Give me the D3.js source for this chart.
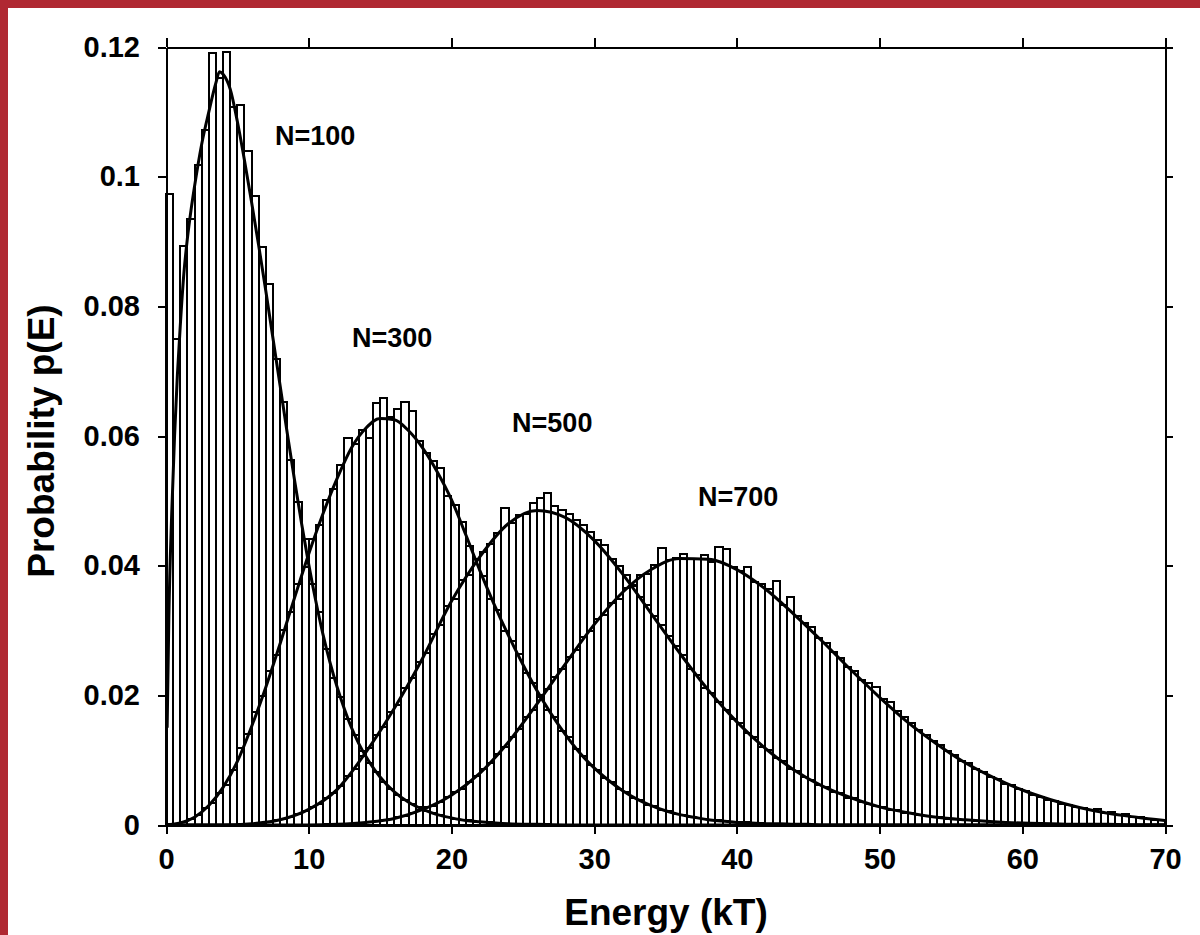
<!DOCTYPE html>
<html>
<head>
<meta charset="utf-8">
<script src="https://cdn.jsdelivr.net/npm/d3@7"></script>
<style>
html, body { margin: 0; padding: 0; background: #fff; }
svg { display: block; }
text { font-family: "Liberation Sans", Arial, sans-serif; font-weight: bold; fill: #000; }
</style>
</head>
<body>
<svg id="chart" width="1200" height="935"></svg>
<script>

/////////////////////////////////////////////////////////////////////////////
                      ///////    Data    ///////
/////////////////////////////////////////////////////////////////////////////

var seriesNames = ['N=100', 'N=300', 'N=500', 'N=700'];

var binWidth = 0.5;   // kT

// histogram heights, one per 0.5 kT bin, starting at the given energy
var barsN100Start = 0;
var barsN100 = [.0974,.0749,.0893,.0935,.1018,.1072,.1190,.1152,.1192,.1108,
                .1111,.1040,.0970,.0892,.0835,.0718,.0652,.0563,.0498,.0441,
                .0372,.0328,.0271,.0226,.0198,.0163,.0139,.0114,.0096,.0081,
                .0066,.0056,.0047,.0039,.0032,.0027,.0021,.0018,.0015,.0012,
                .0010,.0008,.0007,.0005,.0004,.0004,.0003,.0002,.0002,.0002,
                .0001,.0001,.0001,.0001];

var barsN300Start = 0;
var barsN300 = [.0001,.0002,.0005,.0010,.0015,.0026,.0034,.0049,.0062,.0085,
                .0118,.0140,.0175,.0199,.0238,.0262,.0301,.0328,.0372,.0398,
                .0441,.0463,.0502,.0519,.0556,.0597,.0588,.0609,.0597,.0651,
                .0658,.0630,.0641,.0653,.0638,.0592,.0574,.0561,.0550,.0508,
                .0493,.0468,.0431,.0410,.0384,.0349,.0331,.0300,.0284,.0263,
                .0235,.0219,.0201,.0178,.0166,.0145,.0135,.0117,.0107,.0092,
                .0085,.0072,.0066,.0056,.0051,.0042,.0038,.0031,.0029,.0023,
                .0021,.0017,.0015,.0013,.0011,.0009,.0008,.0007,.0006,.0005,
                .0004,.0004,.0003,.0003,.0002,.0002,.0002,.0001,.0001,.0001];

var barsN500Start = 5;
var barsN500 = [.0001,.0002,.0002,.0003,.0005,.0007,.0009,.0013,.0017,.0022,
                .0028,.0033,.0042,.0050,.0060,.0076,.0086,.0107,.0118,.0139,
                .0151,.0175,.0185,.0212,.0226,.0251,.0266,.0294,.0309,.0338,
                .0349,.0378,.0386,.0411,.0421,.0434,.0450,.0489,.0466,.0478,
                .0479,.0497,.0505,.0512,.0492,.0486,.0480,.0470,.0462,.0452,
                .0440,.0432,.0411,.0400,.0386,.0370,.0352,.0340,.0322,.0308,
                .0292,.0276,.0262,.0240,.0232,.0212,.0203,.0189,.0178,.0164,
                .0158,.0142,.0135,.0121,.0116,.0104,.0099,.0087,.0084,.0074,
                .0070,.0062,.0058,.0051,.0049,.0042,.0041,.0036,.0033,.0029,
                .0028,.0023,.0023,.0019,.0018,.0015,.0014,.0012,.0012,.0010,
                .0009,.0008,.0007,.0006,.0006,.0005,.0004,.0004,.0003,.0003,
                .0003,.0002,.0002,.0002,.0001,.0001];

var barsN700Start = 11;
var barsN700 = [.0001,.0001,.0001,.0002,.0002,.0003,.0004,.0006,.0007,.0009,
                .0012,.0014,.0019,.0023,.0027,.0030,.0036,.0043,.0051,.0056,
                .0067,.0076,.0086,.0096,.0110,.0120,.0136,.0148,.0166,.0177,
                .0197,.0209,.0228,.0241,.0259,.0270,.0290,.0299,.0318,.0324,
                .0343,.0349,.0366,.0369,.0385,.0387,.0401,.0427,.0409,.0412,
                .0418,.0411,.0410,.0416,.0405,.0429,.0426,.0398,.0392,.0398,
                .0375,.0371,.0364,.0377,.0340,.0351,.0322,.0312,.0306,.0289,
                .0280,.0267,.0258,.0244,.0238,.0224,.0219,.0213,.0194,.0190,
                .0176,.0166,.0157,.0147,.0139,.0129,.0124,.0114,.0108,.0099,
                .0095,.0087,.0082,.0074,.0071,.0064,.0061,.0055,.0053,.0046,
                .0043,.0039,.0037,.0033,.0031,.0027,.0026,.0023,.0025,.0019,
                .0020,.0016,.0017,.0013,.0012,.0010,.0008,.0008];

// fitted curves: energies and p(E)
var energyN100 = [0.08,0.2,0.4,0.6,0.8,1.0,1.25,1.5,1.75,2.0,
                  2.5,3.0,3.5,3.75,4.0,4.5,5.0,5.5,6.0,6.5,
                  7.0,7.5,8.0,8.5,9.0,9.5,10.0,10.5,11,11.5,
                  12,12.5,13,13.5,14,15,16,17,18,19,
                  20,21,22,24,26,28,30,40,50,60,70];
var fitN100 = [.0150,.0320,.0480,.0600,.0695,.0770,.0850,.0905,.0948,.0985,
               .1050,.1100,.1145,.1162,.1158,.1135,.1085,.1025,.0960,.0893,
               .0823,.0750,.0677,.0604,.0533,.0465,.0402,.0345,.0294,.0250,
               .0212,.0179,.0150,.0126,.0106,.0074,.0051,.0035,.0024,.0016,
               .0011,.0007,.0005,.0002,.0001,0,0,0,0,0,0];

var energyN300 = [0,1,2,3,4,5,6,7,8,9,
                  10,11,12,13,14,15,16,17,18,19,
                  20,21,22,23,24,25,26,27,28,29,
                  30,31,32,33,34,35,36,37,38,39,
                  40,41,42,43,44,45,46,50,60,70];
var fitN300 = [0,.0003,.0012,.0030,.0058,.0098,.0152,.0213,.0280,.0350,
               .0418,.0480,.0535,.0582,.0612,.0627,.0625,.0608,.0581,.0545,
               .0502,.0448,.0392,.0340,.0292,.0248,.0207,.0171,.0139,.0111,
               .0088,.0069,.0053,.0040,.0030,.0022,.0016,.0012,.0008,.0006,
               .0004,.0003,.0002,.0002,.0001,.0001,0,0,0,0];

var energyEven = [0,2,4,6,8,10,12,14,16,18,
                  20,22,24,26,28,30,32,34,36,38,
                  40,42,44,46,48,50,52,54,56,58,
                  60,62,64,66,68,70];
var fitN500 = [0,0,0,.0002,.0008,.0024,.0055,.0112,.0180,.0258,
               .0345,.0414,.0465,.0485,.0474,.0439,.0387,.0326,.0265,.0208,
               .0159,.0118,.0085,.0060,.0042,.0028,.0019,.0012,.0008,.0005,
               .0003,.0002,.0001,.0001,0,0];
var fitN700 = [0,0,0,0,0,0,.0001,.0004,.0010,.0024,
               .0046,.0080,.0128,.0187,.0249,.0309,.0359,.0394,.0411,.0410,
               .0394,.0364,.0325,.0283,.0239,.0197,.0158,.0125,.0096,.0073,
               .0054,.0039,.0027,.0018,.0012,.0007];

var xTicks = [0, 10, 20, 30, 40, 50, 60, 70];
var yTicks = [0, 0.02, 0.04, 0.06, 0.08, 0.1, 0.12];
var yTickLabels = ['0', '0.02', '0.04', '0.06', '0.08', '0.1', '0.12'];

// where each N= label sits, in data units (left edge, baseline)
var labelEnergy = [7.64, 13.03, 24.25, 37.28];
var labelProb = [0.1049, 0.0738, 0.0606, 0.0492];

/////////////////////////////////////////////////////////////////////////////
                      ///////    Set Up Chart    ///////
/////////////////////////////////////////////////////////////////////////////

var svg = d3.select('#chart');

var border_color = '#b02832';
svg.append('rect').attr('x', 0).attr('y', 0).attr('width', 1200).attr('height', 935).attr('fill', '#fff');
svg.append('rect').attr('x', 0).attr('y', 0).attr('width', 8).attr('height', 935).attr('fill', border_color);
svg.append('rect').attr('x', 0).attr('y', 0).attr('width', 1200).attr('height', 8).attr('fill', border_color);

var x = d3.scaleLinear().domain([0, 70]).range([166, 1165]);
var y = d3.scaleLinear().domain([0, 0.12]).range([825, 47]);

var histograms = [
    {name: seriesNames[0], start: barsN100Start, values: barsN100},
    {name: seriesNames[1], start: barsN300Start, values: barsN300},
    {name: seriesNames[2], start: barsN500Start, values: barsN500},
    {name: seriesNames[3], start: barsN700Start, values: barsN700}
];

var fits = [
    {name: seriesNames[0], e: energyN100, p: fitN100},
    {name: seriesNames[1], e: energyN300, p: fitN300},
    {name: seriesNames[2], e: energyEven, p: fitN500},
    {name: seriesNames[3], e: energyEven, p: fitN700}
];

/////////////////////////////////////////////////////////////////////////////
                      ///////    Bars    ///////
/////////////////////////////////////////////////////////////////////////////

var bars_g = svg.append('g').attr('class', 'bars').attr('shape-rendering', 'crispEdges');

histograms.forEach(function(h) {
    var bins = h.values.map((v, i) => ({e0: h.start + i * binWidth, e1: h.start + (i + 1) * binWidth, p: v}))
                       .filter(d => d.p > 0);
    bars_g.append('g').attr('class', 'hist')
        .selectAll('rect').data(bins).enter()
        .append('rect')
        .attr('x', d => Math.round(x(d.e0)))
        .attr('width', d => Math.round(x(d.e1)) - Math.round(x(d.e0)))
        .attr('y', d => Math.round(y(d.p)))
        .attr('height', d => Math.round(y(0)) - Math.round(y(d.p)))
        .attr('fill', 'none')
        .attr('stroke', '#000')
        .attr('stroke-width', 1.8);
});

/////////////////////////////////////////////////////////////////////////////
                      ///////    Fit curves    ///////
/////////////////////////////////////////////////////////////////////////////

var line = d3.line()
    .x(d => x(d[0]))
    .y(d => y(d[1]))
    .curve(d3.curveMonotoneX);

svg.append('g').attr('class', 'fits')
    .selectAll('path').data(fits).enter()
    .append('path')
    .attr('d', f => line(f.e.map((e, i) => [e, f.p[i]])))
    .attr('fill', 'none')
    .attr('stroke', '#000')
    .attr('stroke-width', 3)
    .attr('stroke-linejoin', 'round');

/////////////////////////////////////////////////////////////////////////////
                      ///////    Axes    ///////
/////////////////////////////////////////////////////////////////////////////

function style_axis(g) {
    g.attr('shape-rendering', 'crispEdges');
    g.select('.domain').attr('stroke', '#000').attr('stroke-width', 2);
    g.selectAll('.tick line').attr('stroke', '#000').attr('stroke-width', 2);
    g.selectAll('.tick text').attr('font-size', '29px').attr('fill', '#000')
        .attr('font-family', '"Liberation Sans", Arial, sans-serif').attr('font-weight', 'bold');
}

svg.append('g').attr('transform', `translate(0,${y(0)})`)
    .call(d3.axisBottom(x).tickValues(xTicks).tickSize(9).tickSizeOuter(0).tickPadding(14))
    .call(style_axis);

svg.append('g').attr('transform', `translate(0,${y(0.12)})`)
    .call(d3.axisTop(x).tickValues(xTicks).tickSize(9).tickSizeOuter(0).tickFormat(''))
    .call(style_axis);

svg.append('g').attr('transform', `translate(${x(0)},0)`)
    .call(d3.axisLeft(y).tickValues(yTicks).tickSize(8).tickSizeOuter(0).tickPadding(18)
          .tickFormat((d, i) => yTickLabels[i]))
    .call(style_axis);

svg.append('g').attr('transform', `translate(${x(70)},0)`)
    .call(d3.axisRight(y).tickValues(yTicks).tickSize(8).tickSizeOuter(0).tickFormat(''))
    .call(style_axis);

/////////////////////////////////////////////////////////////////////////////
                      ///////    Text    ///////
/////////////////////////////////////////////////////////////////////////////

svg.append('text')
    .attr('x', 666).attr('y', 925)
    .attr('text-anchor', 'middle')
    .attr('font-size', '37px')
    .text('Energy (kT)');

svg.append('text')
    .attr('transform', 'translate(54,441) rotate(-90)')
    .attr('text-anchor', 'middle')
    .attr('font-size', '37px')
    .text('Probability p(E)');

svg.append('g').attr('class', 'labels')
    .selectAll('text').data(seriesNames).enter()
    .append('text')
    .attr('x', (d, i) => x(labelEnergy[i]))
    .attr('y', (d, i) => y(labelProb[i]))
    .attr('font-size', '27px')
    .text(d => d);

</script>
</body>
</html>
